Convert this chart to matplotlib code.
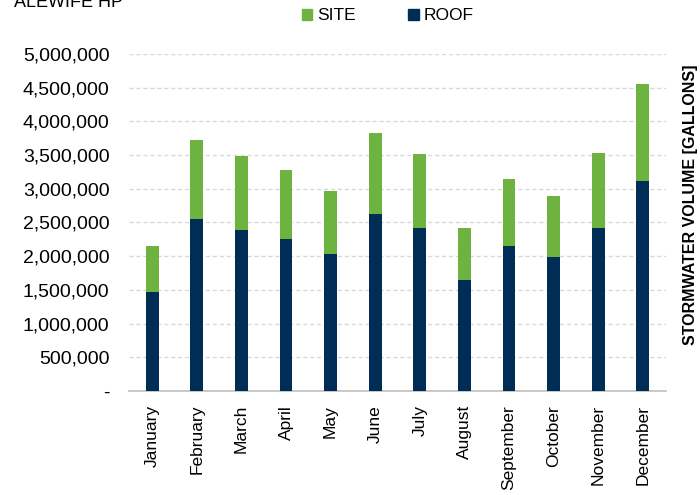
import matplotlib
matplotlib.use("Agg")
import matplotlib.pyplot as plt
from matplotlib.ticker import FuncFormatter, MultipleLocator
from matplotlib.patches import Patch

months = ["January", "February", "March", "April", "May", "June", "July",
          "August", "September", "October", "November", "December"]
roof = [1473000, 2552000, 2393000, 2255000, 2033000, 2621000, 2414000,
        1652000, 2156000, 1983000, 2423000, 3121000]
total = [2156000, 3724000, 3482000, 3284000, 2963000, 3823000, 3516000,
         2414000, 3145000, 2893000, 3526000, 4550000]
site = [t - r for t, r in zip(total, roof)]

GREEN = "#6EB23F"
NAVY = "#002D56"

plt.rcParams["font.family"] = ["Liberation Sans", "DejaVu Sans"]

fig = plt.figure(figsize=(7, 4.95), dpi=100)
ax = fig.add_axes([129/700, 1-391/495, (666-129)/700, (391-54)/495])

x = list(range(len(months)))
ax.bar(x, roof, width=0.285, color=NAVY, zorder=3)
ax.bar(x, site, bottom=roof, width=0.285, color=GREEN, zorder=3)

ax.set_xlim(-0.52, 11.52)
ax.set_ylim(0, 5000000)
ax.yaxis.set_major_locator(MultipleLocator(500000))
ax.yaxis.set_major_formatter(FuncFormatter(lambda v, p: "-" if v == 0 else f"{int(v):,}"))
ax.grid(axis="y", color="#D9D9D9", linestyle=(0, (3, 2)), linewidth=1, zorder=0)
ax.set_xticks(x)
ax.set_xticklabels(months, rotation=90, fontsize=12.5)
ax.tick_params(axis="y", length=0, labelsize=14, pad=14)
ax.tick_params(axis="x", length=0, pad=10)
for s in ["top", "right", "left"]:
    ax.spines[s].set_visible(False)
ax.spines["bottom"].set_color("#BFBFBF")
ax.spines["bottom"].set_linewidth(1.2)

fig.text(690/700, 1-205/495, "STORMWATER VOLUME [GALLONS]", rotation=90,
         ha="center", va="center", fontsize=11.5, fontweight="bold")
fig.text(14/700, 1-7/495, "ALEWIFE HP", ha="left", va="baseline", fontsize=13)

handles = [Patch(color=GREEN, label="SITE"), Patch(color=NAVY, label="ROOF")]
fig.legend(handles=handles, loc="center", bbox_to_anchor=(388/700, 1-16/495),
           ncol=2, frameon=False, fontsize=12.5, handlelength=0.6, handleheight=0.6,
           handletextpad=0.3, columnspacing=3.0)

fig.savefig("out.png", dpi=100)
